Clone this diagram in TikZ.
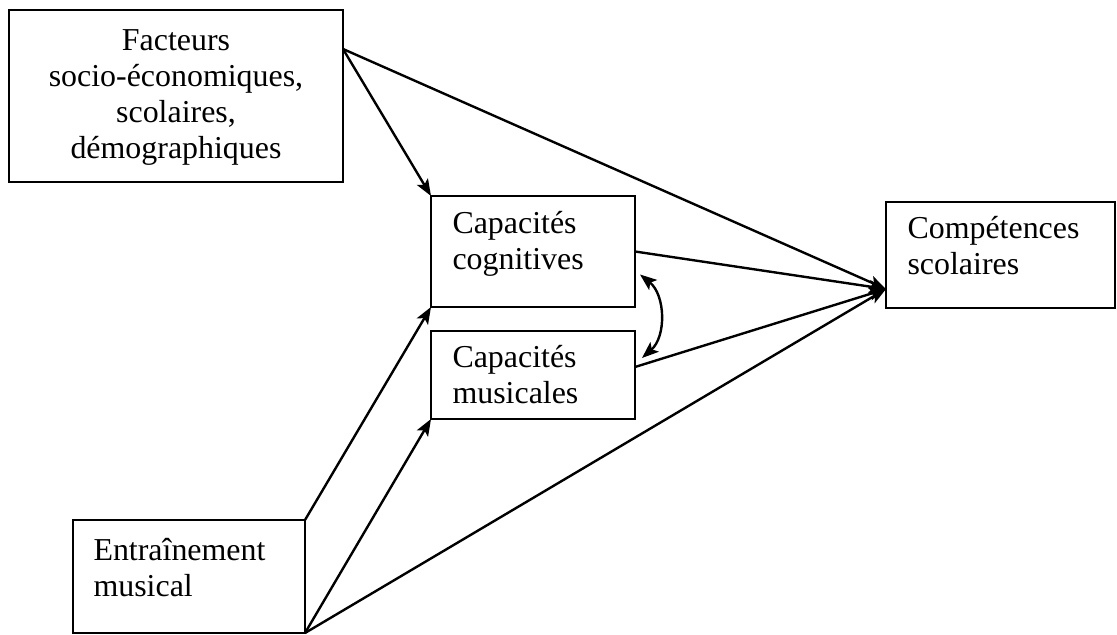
\documentclass[tikz,border=0pt]{standalone}
\usepackage{fontspec}
\setmainfont{Liberation Serif}
\usepackage{tikz}
\usetikzlibrary{arrows.meta, positioning, calc}
\newcommand{\pxu}{0.376pt}
\tikzset{
    block/.style={draw=black, line width=0.9pt, rectangle, anchor=north west, inner sep=0pt, outer sep=0pt},
    boxtext/.style={font=\fontsize{12}{13.6}\selectfont, inner sep=0pt},
    line/.style={draw=black, line width=0.9pt, -{Stealth[length=6.3pt, width=4.8pt, inset=1.4pt]}},
    twoway/.style={draw=black, line width=0.9pt, {Stealth[length=6.3pt, width=4.8pt, inset=1.4pt]}-{Stealth[length=6.3pt, width=4.8pt, inset=1.4pt]}}
}
\begin{document}
\begin{tikzpicture}[x=\pxu, y=\pxu]
    \useasboundingbox (0,0) rectangle (1117,-635);

    % boxes
    \node [block, minimum width=334*\pxu, minimum height=172*\pxu] (Facteurs) at (9,-10) {};
    \node [block, minimum width=204*\pxu, minimum height=111*\pxu] (Cognitives) at (431,-196) {};
    \node [block, minimum width=204*\pxu, minimum height=88*\pxu] (Musicales) at (431,-331) {};
    \node [block, minimum width=229*\pxu, minimum height=106*\pxu] (Competences) at (886,-202) {};
    \node [block, minimum width=232*\pxu, minimum height=113*\pxu] (Entrainement) at (73,-520) {};

    % texts
    \node [boxtext, align=center, anchor=north] at ($(Facteurs.north)+(0,-19)$) {Facteurs\\socio-économiques,\\scolaires,\\démographiques};
    \node [boxtext, align=left, anchor=north west] at ($(Cognitives.north west)+(21,-15)$) {Capacités\\cognitives};
    \node [boxtext, align=left, anchor=north west] at ($(Musicales.north west)+(21,-14)$) {Capacités\\musicales};
    \node [boxtext, align=left, anchor=north west] at ($(Competences.north west)+(21,-14)$) {Compétences\\scolaires};
    \node [boxtext, align=left, anchor=north west] at ($(Entrainement.north west)+(20,-18)$) {Entraînement\\musical};

    % connector ends
    \coordinate (FacOut) at ($(Facteurs.north east)+(0,-39)$);
    \coordinate (CompIn) at ($(Competences.north west)+(0,-87)$);
    \coordinate (MusOut) at ($(Musicales.east)+(0,8)$);
    \coordinate (CogLink) at ($(Cognitives.east)+(5,-23)$);
    \coordinate (MusLink) at ($(Musicales.north east)+(7,-27)$);

    \draw [line] (FacOut) -- (Cognitives.north west);
    \draw [line] (FacOut) -- (CompIn);
    \draw [line] (Cognitives.east) -- (CompIn);
    \draw [line] (MusOut) -- (CompIn);
    \draw [line] (Entrainement.north east) -- (Cognitives.south west);
    \draw [line] (Entrainement.south east) -- (Musicales.south west);
    \draw [line] (Entrainement.south east) -- (CompIn);
    \draw [twoway] (CogLink) to[bend left=50] (MusLink);
\end{tikzpicture}
\end{document}
